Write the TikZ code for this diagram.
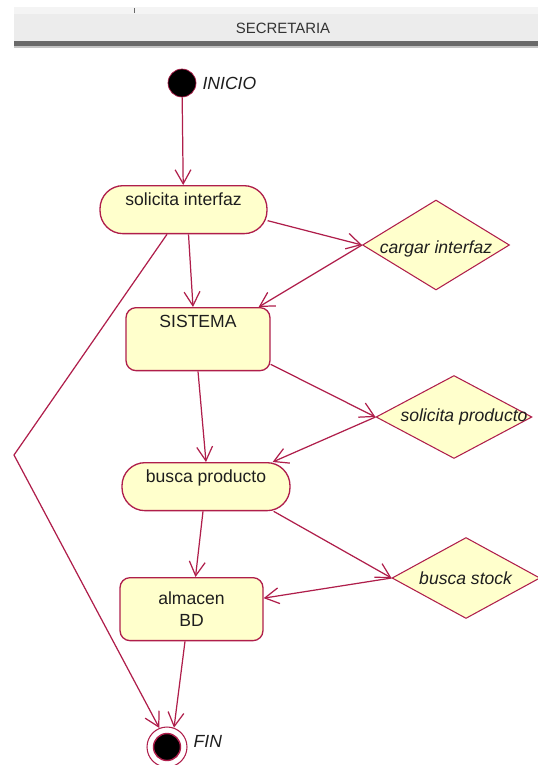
\documentclass[tikz,border=0pt]{standalone}
\usepackage{fontspec}
\setmainfont{Liberation Sans}
\usetikzlibrary{arrows.meta,shapes.geometric}
\definecolor{umlline}{RGB}{175,30,75}
\definecolor{umlfill}{RGB}{255,255,204}
\definecolor{umltext}{RGB}{30,30,30}
\definecolor{bandgray}{RGB}{236,236,236}
\definecolor{bargray}{RGB}{105,105,105}

\begin{document}
\begin{tikzpicture}[x=0.02cm, y=-0.02cm,
    font=\fontsize{10}{12}\selectfont, text=umltext,
    act/.style={draw=umlline, fill=umlfill, line width=0.75pt, rounded corners=0.46cm,
      minimum height=0.96cm, inner ysep=0.15cm, text height=0.25cm, text depth=0.41cm,
      anchor=north},
    box/.style={draw=umlline, fill=umlfill, line width=0.75pt, rounded corners=0.2cm,
      minimum height=1.26cm, align=center, anchor=north},
    dec/.style={diamond, draw=umlline, fill=umlfill, line width=0.6pt, inner sep=0pt},
    flow/.style={draw=umlline, line width=0.7pt, -{Straight Barb[length=8pt,width=9pt]}}]
      \useasboundingbox (0,0) rectangle (538,765);

      % Draw the swimlane header
      \fill[bandgray!60] (14,7) rectangle (538,14);
      \draw[bargray, line width=0.5pt] (134,8) -- (134,13);
      \fill[bandgray] (14,14) rectangle (538,41);
      \fill[bargray] (14,41) rectangle (538,46);
      \fill[bargray!40] (14,46) rectangle (538,47.5);
      \node[text=black!80] (lane) at (283,28) {\fontsize{8.5}{10}\selectfont SECRETARIA};

      % Start and end
      \node[circle, fill=black, draw=umlline, minimum size=0.56cm, inner sep=0pt,
        label={right:\textit{INICIO}}] (ini) at (182,83) {};
      \node[circle, fill=white, draw=umlline, line width=0.6pt, minimum size=0.8cm,
        inner sep=0pt, label={[yshift=0.12cm]right:\textit{FIN}}] (fin) at (167,747) {};
      \filldraw[fill=black, draw=umlline, line width=0.8pt] (fin.center) circle (0.27cm);

      % Activities
      \node[act, minimum width=3.34cm] (solic) at (183.5,185) {solicita interfaz};
      \node[box, minimum width=2.88cm, inner ysep=0.15cm, text height=0.25cm,
        text depth=0.71cm] (sis) at (198,307) {SISTEMA};
      \node[act, minimum width=3.36cm] (busca) at (206,462) {busca producto};
      \node[box, minimum width=2.86cm] (alm) at (191.5,577) {almacen\\BD};

      % Decisions
      \node[dec, minimum width=2.94cm, minimum height=1.8cm,
        label={[yshift=-0.08cm]center:\textit{cargar interfaz}}] (carga) at (436,245) {};
      \node[dec, minimum width=3.12cm, minimum height=1.66cm,
        label={[xshift=0.2cm]center:\textit{solicita producto}}] (solp) at (454,417) {};
      \node[dec, minimum width=2.96cm, minimum height=1.62cm,
        label={center:\textit{busca stock}}] (stock) at (466,578) {};

      \coordinate (bend) at (14,455);

      % Connect them
      \draw[flow] (ini) -- (solic);
      \draw[flow] ([yshift=-0.22cm]solic.east) -- (carga.west);
      \draw[flow] (carga.west) -- ([xshift=-0.24cm]sis.north east);
      \draw[flow] ([xshift=0.1cm]solic.south) -- ([xshift=-0.1cm]sis.north);
      \draw[flow] (sis.south) -- (busca.north);
      \draw[flow] ([yshift=0.14cm]sis.south east) -- (solp.west);
      \draw[flow] (solp.west) -- ([xshift=-0.36cm]busca.north east);
      \draw[flow] ([xshift=-0.06cm]busca.south) -- ([xshift=0.08cm]alm.north);
      \draw[flow] ([xshift=-0.34cm]busca.south east) -- (stock.west);
      \draw[flow] (stock.west) -- ([yshift=0.22cm]alm.east);
      \draw[flow] ([xshift=-0.13cm]alm.south) -- (fin.70);
      \draw[flow] ([xshift=-0.33cm]solic.south) -- (bend) -- (fin.112);
    \end{tikzpicture}
\end{document}
